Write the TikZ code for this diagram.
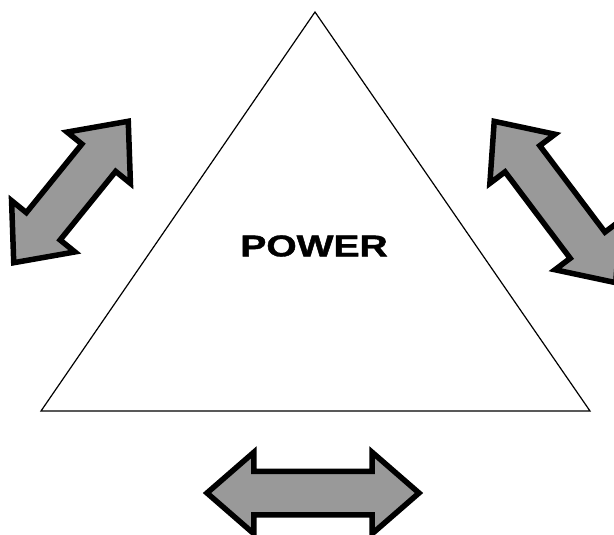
\documentclass[tikz,border=0pt]{standalone}
\usepackage{fontspec}
\newfontfamily\arialfont[BoldFeatures={FakeBold=1.3}]{Liberation Sans}
\usetikzlibrary{shapes.arrows}

\begin{document}
\begin{tikzpicture}[
  x=1pt,y=-1pt,
  tri/.style={draw,line width=1.2pt,line join=miter},
  dbl/.style={double arrow,draw=black,line width=5.5pt,fill=black!40,
              inner xsep=0pt,inner ysep=19pt,minimum width=0pt,
              double arrow head extend=19pt,double arrow tip angle=82},
  lbl/.style={font=\arialfont\bfseries\fontsize{30}{36}\selectfont,xscale=1.3}
]
\useasboundingbox (0,0) rectangle (614,535);

% Triangle corners.
\coordinate (apex) at (315,12);
\coordinate (bl)   at (41,411);
\coordinate (br)   at (590,411);
\draw[tri] (apex) -- (bl) -- (br) -- cycle;

% Label.
\node[lbl] (power) at (314,246) {POWER};

% Two-way arrows round the triangle.
\node[dbl,minimum height=182pt,rotate=51]  (left)   at (71,192) {};
\node[dbl,minimum height=202pt,rotate=-53] (right)  at (555,202) {};
\node[dbl,minimum height=212pt]            (bottom) at (313,493) {};
\end{tikzpicture}
\end{document}
